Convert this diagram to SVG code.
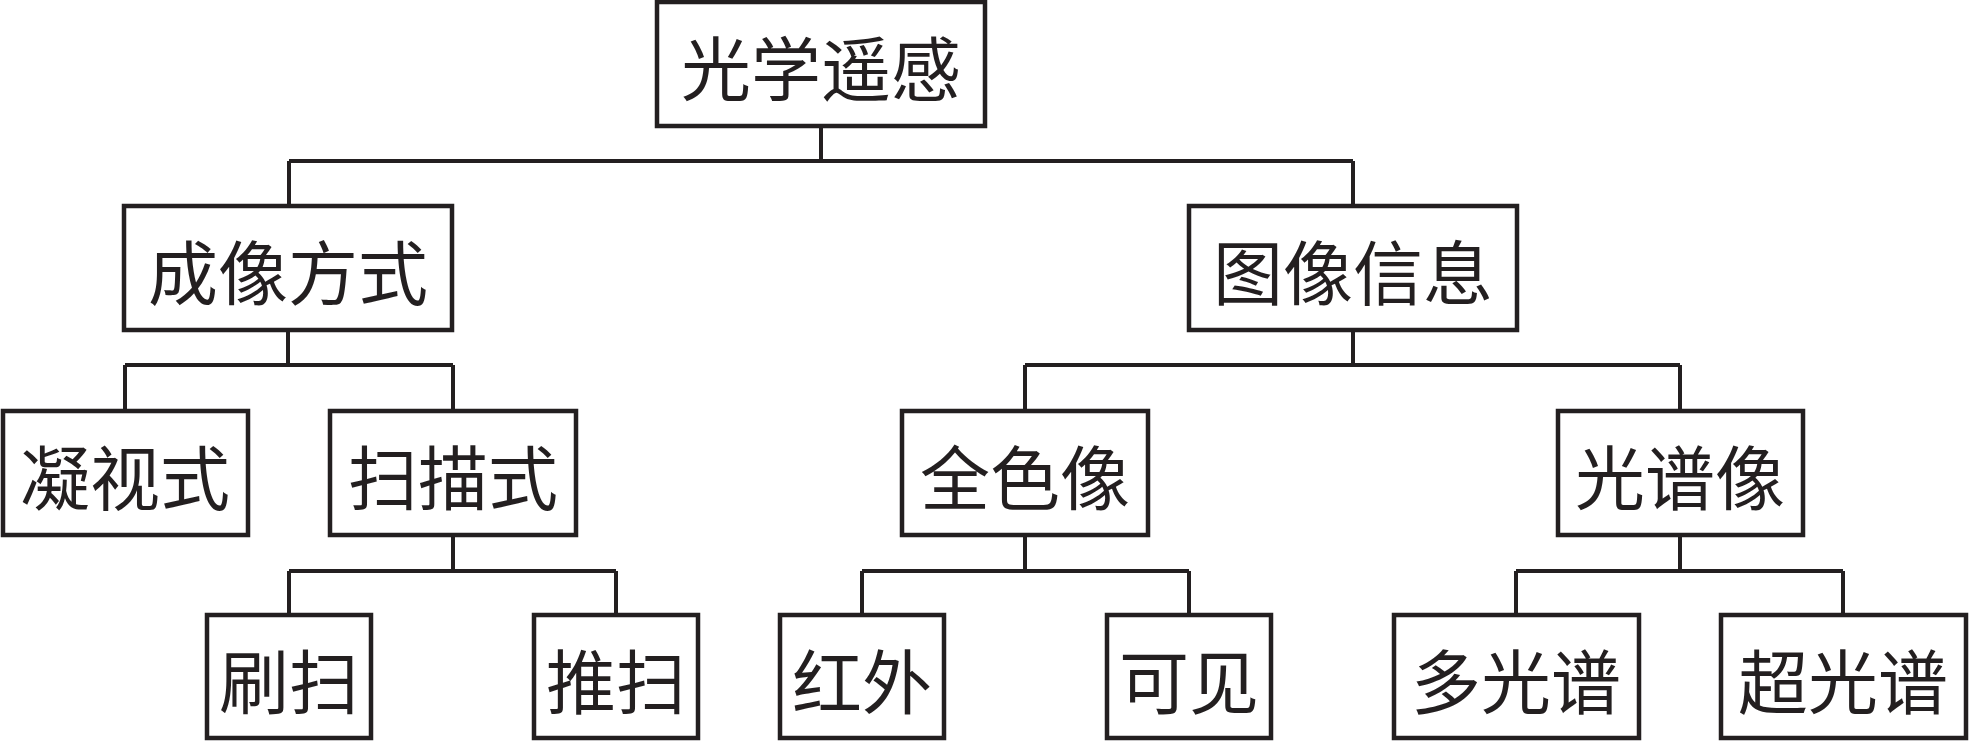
<svg xmlns="http://www.w3.org/2000/svg" width="1969" height="741" viewBox="0 0 1969 741">
<style>
.box{fill:#fff;stroke:#231f20;stroke-width:4.5}
.lbl{font-family:"Noto Sans CJK SC","Noto Sans CJK JP",sans-serif;font-size:70px;fill:#231f20;text-anchor:middle;dominant-baseline:central}
.con{fill:none;stroke:#231f20;stroke-width:4}
</style>
<rect width="1969" height="741" fill="#fff"/>
<g id="connectors" class="con">
<path d="M821 126V161M289 161H1353M289 161V206M1353 161V206"/>
<path d="M288 330V365M125 365H453M125 365V411M453 365V411"/>
<path d="M1353 330V365M1025 365H1680M1025 365V411M1680 365V411"/>
<path d="M453 535V571M289 571H616M289 571V615M616 571V615"/>
<path d="M1025 535V571M862 571H1189M862 571V615M1189 571V615"/>
<path d="M1680 535V571M1516 571H1843M1516 571V615M1843 571V615"/>
</g>
<g id="n-root"><rect class="box" x="657" y="2" width="328" height="124"/><text class="lbl" x="821" y="65">光学遥感</text></g>
<g id="n-imaging"><rect class="box" x="124" y="206" width="328" height="124"/><text class="lbl" x="288" y="269">成像方式</text></g>
<g id="n-info"><rect class="box" x="1189" y="206" width="328" height="124"/><text class="lbl" x="1353" y="269">图像信息</text></g>
<g id="n-stare"><rect class="box" x="3" y="411" width="245" height="124"/><text class="lbl" x="125" y="474">凝视式</text></g>
<g id="n-scan"><rect class="box" x="330" y="411" width="246" height="124"/><text class="lbl" x="453" y="474">扫描式</text></g>
<g id="n-pan"><rect class="box" x="902" y="411" width="246" height="124"/><text class="lbl" x="1025" y="474">全色像</text></g>
<g id="n-spec"><rect class="box" x="1558" y="411" width="245" height="124"/><text class="lbl" x="1680" y="474">光谱像</text></g>
<g id="n-whisk"><rect class="box" x="207" y="615" width="164" height="123"/><text class="lbl" x="289" y="678">刷扫</text></g>
<g id="n-push"><rect class="box" x="534" y="615" width="164" height="123"/><text class="lbl" x="616" y="678">推扫</text></g>
<g id="n-ir"><rect class="box" x="780" y="615" width="164" height="123"/><text class="lbl" x="862" y="678">红外</text></g>
<g id="n-vis"><rect class="box" x="1107" y="615" width="164" height="123"/><text class="lbl" x="1189" y="678">可见</text></g>
<g id="n-multi"><rect class="box" x="1394" y="615" width="245" height="123"/><text class="lbl" x="1516" y="678">多光谱</text></g>
<g id="n-hyper"><rect class="box" x="1721" y="615" width="245" height="123"/><text class="lbl" x="1843" y="678">超光谱</text></g>
</svg>
